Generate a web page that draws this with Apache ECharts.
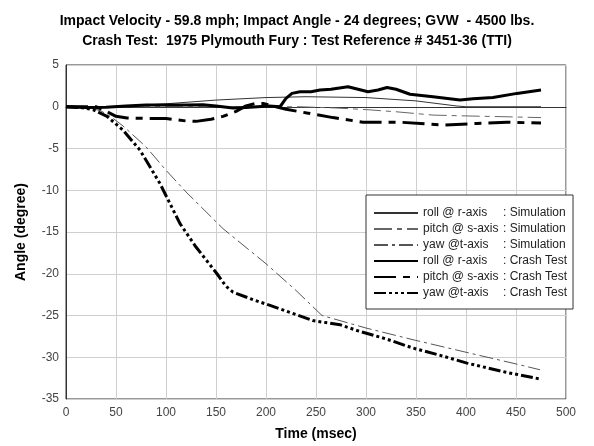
<!DOCTYPE html>
<html>
<head>
<meta charset="utf-8">
<script src="https://cdn.jsdelivr.net/npm/echarts@6/dist/echarts.min.js"></script>
<style>
  html, body { margin: 0; padding: 0; background: #fff; }
  #chart { width: 594px; height: 446px; }
</style>
</head>
<body>
<div id="chart"></div>
<script>
// time (msec) / angle (degree)
const simRollT = [0, 40, 60, 100, 150, 200, 240, 300, 350, 390, 400, 475];
const simRollV = [0, 0, 0.1, 0.35, 0.8, 1.1, 1.2, 1.1, 0.7, 0.1, 0, 0];

const simPitchT = [0, 200, 234, 270, 301, 330, 367, 400, 440, 475];
const simPitchV = [0, 0, 0, -0.15, -0.35, -0.6, -1.0, -1.1, -1.2, -1.3];

const simYawT = [0, 20, 35, 45, 57, 80, 100, 120, 157, 200, 230, 256, 300, 347, 400, 450, 474];
const simYawV = [0, 0, -0.5, -1.2, -2.3, -4.8, -7.6, -10.2, -14.6, -18.8, -22.0, -25.0, -26.5, -27.9, -29.4, -30.8, -31.5];

const crashRollT = [0, 20, 40, 60, 80, 100, 120, 137, 150, 167, 180, 203, 214, 220, 226, 234, 245, 254, 265, 282, 292, 302, 312, 321, 330, 344, 367, 394, 407, 427, 451, 475];
const crashRollV = [0, -0.1, -0.05, 0.1, 0.2, 0.2, 0.2, 0.25, 0.1, -0.15, -0.1, 0.1, 0, 1.0, 1.6, 1.8, 1.8, 2.0, 2.1, 2.4, 2.1, 1.8, 2.0, 2.3, 2.1, 1.5, 1.2, 0.8, 0.95, 1.1, 1.6, 2.0];

const crashPitchT = [0, 30, 37, 50, 61, 80, 100, 120, 130, 145, 157, 170, 180, 190, 197, 207, 220, 241, 267, 297, 334, 377, 411, 441, 475];
const crashPitchV = [0, 0, -0.35, -1.15, -1.35, -1.4, -1.4, -1.7, -1.75, -1.5, -1.15, -0.55, 0.1, 0.4, 0.4, 0.1, -0.3, -0.75, -1.3, -1.85, -1.85, -2.2, -2.0, -1.85, -1.95];

const crashYawT = [0, 15, 27, 41, 57, 74, 94, 114, 130, 151, 160, 167, 187, 214, 247, 257, 274, 291, 320, 347, 375, 401, 440, 474];
const crashYawV = [0, -0.1, -0.35, -1.15, -2.8, -5.2, -9.2, -14.0, -16.8, -20.0, -21.5, -22.2, -23.1, -24.2, -25.6, -25.8, -26.1, -26.8, -27.8, -28.9, -29.8, -30.7, -31.8, -32.6];

const xTicks = [0, 50, 100, 150, 200, 250, 300, 350, 400, 450, 500];
const yTicks = [5, 0, -5, -10, -15, -20, -25, -30, -35];

const font = "Liberation Sans, Arial, sans-serif";
const pairs = (t, v) => t.map((x, i) => [x, v[i]]);

const series = [
  {name: "sim_roll", label: ["roll @ r-axis", ": Simulation"], data: pairs(simRollT, simRollV), color: "#333", width: 1, dash: "solid"},
  {name: "sim_pitch", label: ["pitch @ s-axis", ": Simulation"], data: pairs(simPitchT, simPitchV), color: "#666", width: 1, dash: [18, 5, 5, 5]},
  {name: "sim_yaw", label: ["yaw @t-axis", ": Simulation"], data: pairs(simYawT, simYawV), color: "#555", width: 1, dash: [14, 4, 3, 4]},
  {name: "crash_roll", label: ["roll @ r-axis", ": Crash Test"], data: pairs(crashRollT, crashRollV), color: "#000", width: 3, dash: "solid"},
  {name: "crash_pitch", label: ["pitch @ s-axis", ": Crash Test"], data: pairs(crashPitchT, crashPitchV), color: "#000", width: 3, dash: [22, 7, 7, 7]},
  {name: "crash_yaw", label: ["yaw @t-axis", ": Crash Test"], data: pairs(crashYawT, crashYawV), color: "#000", width: 3, dash: [12, 3, 3, 3, 3, 3, 3, 3]},
];

const labelMap = {};
series.forEach(s => { labelMap[s.name] = s.label; });

const chart = echarts.init(document.getElementById("chart"), null, {renderer: "canvas"});

const option = {
  animation: false,
  title: {
    text: "Impact Velocity - 59.8 mph; Impact Angle - 24 degrees; GVW  - 4500 lbs.\nCrash Test:  1975 Plymouth Fury : Test Reference # 3451-36 (TTI)",
    left: "center",
    top: 6,
    textStyle: {
      fontFamily: font,
      fontSize: 14,
      fontWeight: "bold",
      color: "#000",
      lineHeight: 20,
    },
  },
  grid: {
    left: 66,
    right: 28,
    top: 65,
    bottom: 45,
    show: true,
    borderColor: "#333",
    borderWidth: 1,
  },
  legend: {
    orient: "vertical",
    left: 366,
    top: 195,
    itemWidth: 44,
    itemHeight: 10,
    itemGap: 4,
    padding: [12, 6, 10, 7],
    backgroundColor: "#fff",
    borderColor: "#333",
    borderWidth: 1,
    borderRadius: 0,
    itemStyle: {opacity: 0},
    data: series.map(s => s.name),
    formatter: name => `{a|${labelMap[name][0]}}{b|${labelMap[name][1]}}`,
    textStyle: {
      fontFamily: font,
      fontSize: 12,
      color: "#222",
      rich: {
        a: {width: 80, fontSize: 12, fontFamily: font, color: "#222"},
        b: {fontSize: 12, fontFamily: font, color: "#222"},
      },
    },
  },
  xAxis: {
    type: "value",
    min: 0,
    max: 500,
    interval: 50,
    name: "Time (msec)",
    nameLocation: "middle",
    nameGap: 28,
    nameTextStyle: {fontFamily: font, fontSize: 14, fontWeight: "bold", color: "#000"},
    axisLine: {show: true, lineStyle: {color: "#333", width: 1}},
    axisTick: {show: false},
    axisLabel: {
      color: "#444",
      fontFamily: font,
      fontSize: 12,
      margin: 8,
      formatter: v => (xTicks.includes(v) ? String(v) : ""),
    },
    splitLine: {show: true, lineStyle: {color: "#cfcfcf", width: 1}},
  },
  yAxis: {
    type: "value",
    min: -35,
    max: 5,
    interval: 5,
    name: "Angle (degree)",
    nameLocation: "middle",
    nameGap: 38,
    nameTextStyle: {fontFamily: font, fontSize: 14, fontWeight: "bold", color: "#000"},
    axisLine: {show: true, lineStyle: {color: "#333", width: 1}},
    axisTick: {show: false},
    axisLabel: {
      color: "#444",
      fontFamily: font,
      fontSize: 12,
      margin: 7,
      formatter: v => (yTicks.includes(v) ? String(v) : ""),
    },
    splitLine: {show: true, lineStyle: {color: "#cfcfcf", width: 1}},
  },
  series: series.map(s => ({
    name: s.name,
    type: "line",
    data: s.data,
    showSymbol: false,
    symbol: "none",
    smooth: false,
    color: s.color,
    lineStyle: {color: s.color, width: s.width, type: s.dash},
    z: s.width > 1 ? 3 : 2,
  })),
};

chart.setOption(option);
</script>
</body>
</html>
